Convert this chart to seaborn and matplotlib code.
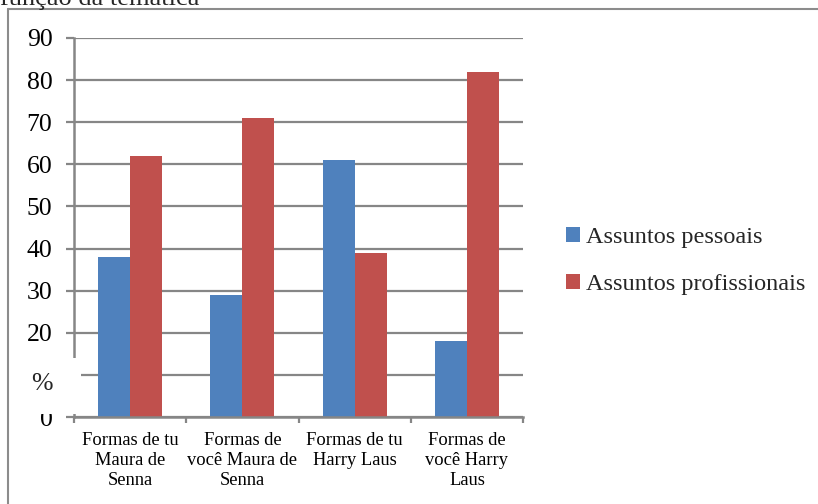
import matplotlib
matplotlib.use("Agg")
import matplotlib.pyplot as plt
from matplotlib.lines import Line2D
from matplotlib.patches import Rectangle, Patch
import seaborn as sns
import pandas as pd

categories = ["Formas de tu\nMaura de\nSenna", "Formas de\nvocê Maura de\nSenna",
              "Formas de tu\nHarry Laus", "Formas de\nvocê Harry\nLaus"]
series_names = ["Assuntos pessoais", "Assuntos profissionais"]
pessoais = [38, 29, 61, 18]
profissionais = [62, 71, 39, 82]
ytick_values = [0, 10, 20, 30, 40, 50, 60, 70, 80, 90]
ytick_labels = ["0", "", "20", "30", "40", "50", "60", "70", "80", "90"]
colors = ["#4F81BD", "#C0504D"]

df = pd.DataFrame({
    "categoria": categories * 2,
    "serie": [series_names[0]] * 4 + [series_names[1]] * 4,
    "valor": pessoais + profissionais,
})

sns.set_theme(style="white")
plt.rcParams["font.family"] = ["Liberation Serif", "DejaVu Serif"]

W, H = 818, 504
fig = plt.figure(figsize=(W / 100, H / 100), dpi=100)
fig.patch.set_facecolor("white")

def fx(px):
    return px / W

def fy(py):
    return 1 - py / H

ax = fig.add_axes([fx(74), fy(417), fx(523) - fx(74), fy(38) - fy(417)])

sns.barplot(data=df, x="categoria", y="valor", hue="serie", order=categories,
            hue_order=series_names, palette=colors, width=0.57, saturation=1,
            edgecolor="none", linewidth=0, ax=ax, legend=False)

grid_color = "#868686"
ax.set_ylim(0, 90)
ax.set_xlim(-0.5, 3.5)
ax.set_yticks(ytick_values)
ax.set_yticklabels(ytick_labels, fontsize=18.5)
ax.set_xlabel("")
ax.set_ylabel("")
ax.yaxis.grid(True, color=grid_color, linewidth=1.6)
ax.set_axisbelow(True)
for s in ["top", "right"]:
    ax.spines[s].set_visible(False)
for s in ["left", "bottom"]:
    ax.spines[s].set_color(grid_color)
    ax.spines[s].set_linewidth(1.8)
ax.tick_params(axis="y", which="both", left=True, length=5.5, width=1.6,
               color=grid_color, pad=10, labelcolor="black")

# category labels between boundary ticks
ax.set_xticks(range(len(categories)))
ax.set_xticklabels(categories, fontsize=13.3, linespacing=1.22)
ax.tick_params(axis="x", which="major", length=0, pad=11, labelcolor="black")
ax.set_xticks([-0.5, 0.5, 1.5, 2.5, 3.5], minor=True)
ax.tick_params(axis="x", which="minor", bottom=True, length=4, width=1.6,
               color=grid_color)

# white patch over the axis near the lowest band, with the unit sign
fig.add_artist(Rectangle((fx(30), fy(414)), fx(81) - fx(30), fy(358) - fy(414),
                         transform=fig.transFigure, facecolor="white",
                         edgecolor="none", zorder=5))
fig.text(fx(53), fy(384), "%", fontsize=18.5, ha="right", va="center", zorder=6)

handles = [Patch(facecolor=c, edgecolor="none") for c in colors]
fig.legend(handles, series_names, loc="center left",
           bbox_to_anchor=(fx(556), fy(261)), fontsize=17.5, frameon=False,
           handlelength=0.6, handleheight=0.6, handletextpad=0.25,
           labelspacing=1.05, borderaxespad=0)

# outer frame
frame_color = "#8c8c8c"
fig.add_artist(Line2D([fx(8), fx(8)], [fy(9), 0], transform=fig.transFigure,
                      color=frame_color, linewidth=1.5))
fig.add_artist(Line2D([fx(8), 1], [fy(9), fy(9)], transform=fig.transFigure,
                      color=frame_color, linewidth=1.5))

fig.text(fx(0), fy(5), "função da temática", fontsize=19, ha="left",
         va="baseline")

fig.savefig("out.png", dpi=100, facecolor="white")
